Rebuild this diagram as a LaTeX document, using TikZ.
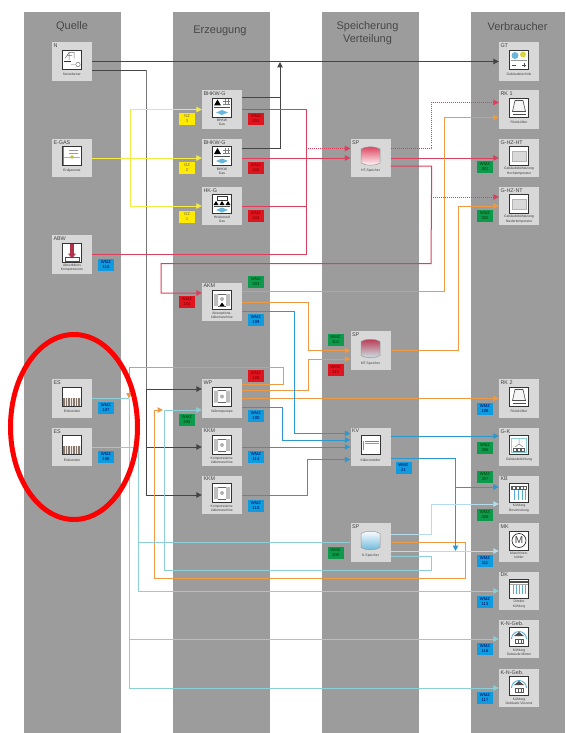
\documentclass[tikz,border=0pt]{standalone}
\usepackage{fontspec}
\setmainfont{Liberation Sans}
\usetikzlibrary{arrows.meta, calc, shapes.geometric}
\definecolor{PanelGray}{HTML}{9C9C9C}
\definecolor{BoxGray}{HTML}{D8D8D8}
\definecolor{LineDark}{HTML}{454545}
\definecolor{LineFaint}{HTML}{767676}
\definecolor{LineGas}{HTML}{F4EC45}
\definecolor{LineHeat}{HTML}{DC3F5C}
\definecolor{LineWarm}{HTML}{EE9A44}
\definecolor{LineCold}{HTML}{2C98CC}
\definecolor{LineCool}{HTML}{8CCFD6}
\definecolor{LinePale}{HTML}{B4DCEA}
\definecolor{TagRed}{HTML}{E0141E}
\definecolor{TagBlue}{HTML}{0E9BE0}
\definecolor{TagGreen}{HTML}{0D9A4C}
\definecolor{TagYellow}{HTML}{FFEA00}
\definecolor{SoilBrown}{HTML}{85776C}
\tikzset{
    panel/.style={fill=PanelGray, draw=none},
    panelhead/.style={font=\fontsize{11}{12.7}\selectfont, text=black!72, align=center},
    devbox/.style={fill=BoxGray, minimum width=40pt, minimum height=38.5pt, inner sep=0pt},
    devtitle/.style={anchor=north west, inner sep=1.5pt, font=\fontsize{5.4}{6}\selectfont, text=black!75},
    devcap/.style={anchor=south, yshift=2pt, minimum height=8.4pt, inner sep=0pt, align=center, font=\fontsize{3.4}{4.2}\selectfont, text=black!75},
    tagred/.style={fill=TagRed, text=red!45!black, tagbase},
    tagblue/.style={fill=TagBlue, text=blue!35!black, tagbase},
    taggreen/.style={fill=TagGreen, text=green!25!black, tagbase},
    taggas/.style={fill=TagYellow, text=black!60, tagbase},
    tagbase/.style={minimum width=16pt, minimum height=12pt, inner sep=0pt, align=center, font=\fontsize{4.2}{5}\selectfont},
    netline/.style={draw=LineDark, line width=1pt},
    netfaint/.style={draw=LineFaint, line width=1pt},
    gasline/.style={draw=LineGas, line width=1pt},
    heatline/.style={draw=LineHeat, line width=1pt},
    heatdot/.style={heatline, densely dotted},
    warmline/.style={draw=LineWarm, line width=1pt},
    coldline/.style={draw=LineCold, line width=1pt},
    coolline/.style={draw=LineCool, line width=1pt},
    paleline/.style={draw=LinePale, line width=1pt},
    icon/.style={minimum size=19pt, inner sep=0pt, fill=white, draw=black!80, line width=.7pt, path picture={
        \begin{scope}[shift={(path picture bounding box.center)}]
            #1
        \end{scope}}},
    netzicon/.style={icon={
        \draw[black!55, line width=.5pt] (-7,-1) -- (-3,-7) -- (-3,1) (-3,-7) -- (2,-7) -- (2,-1) (-5,-4) -- (0,-4);
        \draw[black!80, line width=.8pt] (-8,2) -- (-1,2);
        \draw[black!60, line width=.4pt] (-1,5) -- (3,5) (6,5) circle (2.2);}},
    gasicon/.style={icon={
        \fill[black!40!LineGas] (-9.5,-9.5) rectangle (-8,9.5);
        \draw[black!40, line width=.4pt] (-3,-6) -- (6,-6) (-3,-3) -- (6,-3);
        \draw[LineGas!80!black, line width=.8pt] (-8,1) -- (8,1);
        \fill[LineGas!80!black] (0,1) circle (1.8);}},
    abwicon/.style={icon={
        \fill[LineHeat!80!black] (-2,-9) rectangle (2,2);
        \fill[LineHeat!80!black] (-4,1) -- (4,1) -- (0,6) -- cycle;
        \draw[black!70, line width=.5pt] (-7,5) rectangle (7,9);}},
    bhkwicon/.style={icon={
        \fill[black] (-8,-2) -- (-4.5,-8) -- (-1,-2) -- cycle;
        \draw[black!50, line width=.4pt] (1,-8) grid[step=3pt] (8,-2);
        \draw[black!70, line width=.6pt] (-8,0) -- (8,0);
        \fill[LineCold!70!white] (-6,5) -- (0,2.5) -- (6,5) -- (0,7.5) -- cycle;}},
    hkicon/.style={icon={
        \draw[black!80, line width=.5pt] (-5,-8) rectangle (5,-4);
        \foreach \i in {-6,0,6} {\fill[black] (\i-2.5,1) -- (\i,-3) -- (\i+2.5,1) -- cycle;}
        \draw[black!70, line width=.6pt] (-8,2) -- (8,2);
        \fill[LineCold!70!white] (-6,6) -- (0,3.5) -- (6,6) -- (0,8.5) -- cycle;}},
    machicon/.style={icon={
        \fill[black!25] (-8,-6) rectangle (-4,6) (4,-6) rectangle (8,6);
        \draw[black!60, line width=.4pt] (-4,-6) -- (4,-6) (-4,6) -- (4,6);
        \fill[black!30] (0,0) circle (2);}},
    akmicon/.style={icon={
        \fill[black!25] (-8,-6) rectangle (-4,6) (4,-6) rectangle (8,6);
        \draw[black!60, line width=.4pt] (-4,-6) -- (4,-6) (-4,6) -- (4,6);
        \fill[black!30] (0,-1) circle (2);
        \fill[black] (-2.5,6) -- (0,2.5) -- (2.5,6) -- cycle;}},
    erdicon/.style={icon={
        \fill[SoilBrown] (-9,1) rectangle (9,9);
        \foreach \i in {-7,-4.5,...,8} {\draw[white!85!SoilBrown, line width=.5pt] (\i,1) -- (\i,9);}}},
    tankicon/.style args={#1 and #2}{minimum size=21pt, inner sep=0pt, path picture={
        \begin{scope}[shift={(path picture bounding box.center)}]
            \draw[draw=black!40, line width=.5pt, top color=#1, bottom color=#2] (-9.5,-7) .. controls (-5,-10) and (5,-10) .. (9.5,-7) -- (9.5,7) .. controls (5,10) and (-5,10) .. (-9.5,7) -- cycle;
        \end{scope}}},
    rkicon/.style={icon={
        \draw[black!70, line width=.6pt, fill=black!4] (-4,-7) -- (4,-7) -- (6.5,4) -- (-6.5,4) -- cycle;
        \draw[black!70, line width=.8pt] (-6.5,7) -- (6.5,7);}},
    hzicon/.style={icon={
        \fill[black!15] (-7,-5) rectangle (7,5);
        \draw[black!30, line width=.3pt] (-7,-5) rectangle (7,5);}},
    kvicon/.style={icon={
        \draw[black!45, line width=.4pt] (-7,-4) -- (-7,5);
        \draw[LineCold, line width=1pt] (-6,-4) -- (8,-4);
        \draw[black!40, line width=.4pt] (-6,-2) -- (8,-2);}},
    kbicon/.style={icon={
        \fill[black!65] (-8,-7) rectangle (8,-3);
        \foreach \i in {-5,-1,3,6} {\fill[white] (\i-.8,-6) rectangle (\i+.8,-4);
            \draw[LineCold!80!white, line width=.5pt] (\i,-3) -- (\i,7);}}},
    dkicon/.style={icon={
        \fill[black!70] (-9,-8) rectangle (9,-6);
        \draw[black!35, line width=.5pt] (-9,-4.5) -- (9,-4.5);
        \foreach \i in {-6,-3,...,7} {\draw[LineCold!80!white, line width=.5pt] (\i,-4) -- (\i,5);}}},
    mkicon/.style={icon={
        \draw[black!80, line width=.7pt] (0,0) circle (7);}},
    gkicon/.style={icon={
        \draw[LineCool, line width=1pt] (-7.5,-7) rectangle (7.5,7.5);
        \draw[black!50, line width=.5pt] (0,-1) -- (0,-6) (0,-1) -- (-4,2) (0,-1) -- (4,2);
        \fill[black!65] (-6,3) rectangle (6,7);
        \foreach \i in {-4,0,4} {\fill[white] (\i-1,4) rectangle (\i+1,6);}}},
    knicon/.style={icon={
        \draw[LineCold!80!white, line width=.9pt] (-7.5,2) arc[start angle=180, end angle=360, radius=7.5];
        \fill[black!70] (-5,-1) -- (0,-5) -- (5,-1) -- cycle;
        \fill[black!65] (-4,2) rectangle (5,7);
        \foreach \i in {-2,1,3.5} {\fill[white] (\i-.8,3) rectangle (\i+.8,6);}}},
    gticon/.style={icon={
        \fill[LineCold!70!white] (-4,-4) circle (3.5);
        \fill[LineGas!90!black] (4,-5) circle (3);
        \draw[black!40, line width=.5pt] (-8,1) -- (8,1);
        \draw[black!70, line width=.6pt] (-7,6) -- (-3,6) (3,6) -- (7,6) (5,4) -- (5,8);}},
}
\begin{document}
\begin{tikzpicture}[x=1pt, y=-1pt, >={Stealth[length=5.5pt,width=5.5pt,inset=0pt]}]
    \useasboundingbox (0,0) rectangle (565,733);

    % columns
    \fill[panel] (24,12) rectangle (121,733);
    \fill[panel] (172.5,12) rectangle (269.5,733);
    \fill[panel] (321.5,12) rectangle (418.5,733);
    \fill[panel] (470.5,12) rectangle (565,733);
    \node (quelle) [panelhead] at (72,26.5) {Quelle};
    \node (erzeugung) [panelhead] at (220,31) {Erzeugung};
    \node (speicherung) [panelhead] at (367.5,33) {Speicherung\\Verteilung};
    \node (verbraucher) [panelhead] at (517.5,27) {Verbraucher};

    % devices
    \node (netz) [devbox, label={[devtitle]north west:N}, label={[devcap]south:Netzebener}] at (72,61.5) {};
    \node (netzicn) [netzicon] at ($(netz)+(0,-2)$) {};
    \node (egas) [devbox, label={[devtitle]north west:E-GAS}, label={[devcap]south:Erdgasnetz}] at (72,158) {};
    \node (egasicn) [gasicon] at ($(egas)+(0,-2)$) {};
    \node (abw) [devbox, label={[devtitle]north west:ABW}, label={[devcap]south:{Absorbtions\\Kompressoren}}] at (72,254.5) {};
    \node (abwicn) [abwicon] at ($(abw)+(0,-2)$) {};
    \node (esa) [devbox, label={[devtitle]north west:ES}, label={[devcap]south:Erdsonden}] at (72,398.5) {};
    \node (esaicn) [erdicon] at ($(esa)+(0,-2)$) {};
    \node (esb) [devbox, label={[devtitle]north west:ES}, label={[devcap]south:Erdsonden}] at (72,447) {};
    \node (esbicn) [erdicon] at ($(esb)+(0,-2)$) {};

    \node (bhkwa) [devbox, label={[devtitle]north west:BHKW-G}, label={[devcap]south:{BHKW\\Gas}}] at (222,109.5) {};
    \node (bhkwaicn) [bhkwicon] at ($(bhkwa)+(0,-2)$) {};
    \node (bhkwb) [devbox, label={[devtitle]north west:BHKW-G}, label={[devcap]south:{BHKW\\Gas}}] at (222,158) {};
    \node (bhkwbicn) [bhkwicon] at ($(bhkwb)+(0,-2)$) {};
    \node (hkg) [devbox, label={[devtitle]north west:HK-G}, label={[devcap]south:{Heizkessel\\Gas}}] at (222,206) {};
    \node (hkgicn) [hkicon] at ($(hkg)+(0,-2)$) {};
    \node (akm) [devbox, label={[devtitle]north west:AKM}, label={[devcap]south:{Absorptions-\\kältemaschine}}] at (222,302) {};
    \node (akmicn) [akmicon] at ($(akm)+(0,-2)$) {};
    \node (wp) [devbox, label={[devtitle]north west:WP}, label={[devcap]south:Wärmepumpe}] at (222,398.5) {};
    \node (wpicn) [machicon] at ($(wp)+(0,-2)$) {};
    \node (kkma) [devbox, label={[devtitle]north west:KKM}, label={[devcap]south:{Kompressions-\\kältemaschine}}] at (222,447) {};
    \node (kkmaicn) [machicon] at ($(kkma)+(0,-2)$) {};
    \node (kkmb) [devbox, label={[devtitle]north west:KKM}, label={[devcap]south:{Kompressions-\\kältemaschine}}] at (222,495) {};
    \node (kkmbicn) [machicon] at ($(kkmb)+(0,-2)$) {};

    \node (spht) [devbox, label={[devtitle]north west:SP}, label={[devcap]south:HT-Speicher}] at (370.5,158) {};
    \node (sphticn) [tankicon=LineHeat and white] at ($(spht)+(0,-2)$) {};
    \node (spmt) [devbox, label={[devtitle]north west:SP}, label={[devcap]south:MT-Speicher}] at (370.5,350.5) {};
    \node (spmticn) [tankicon=LineHeat!85!black and LineCool!45!white] at ($(spmt)+(0,-2)$) {};
    \node (kv) [devbox, label={[devtitle]north west:KV}, label={[devcap]south:Kälteverteiler}] at (370.5,447) {};
    \node (kvicn) [kvicon] at ($(kv)+(0,-2)$) {};
    \node (spk) [devbox, label={[devtitle]north west:SP}, label={[devcap]south:K-Speicher}] at (370.5,542.5) {};
    \node (spkicn) [tankicon=white and LineCold!70!white] at ($(spk)+(0,-2)$) {};

    \node (gt) [devbox, label={[devtitle]north west:GT}, label={[devcap]south:Gebäudetechnik}] at (519,61.5) {};
    \node (gticn) [gticon] at ($(gt)+(0,-2)$) {};
    \node (rka) [devbox, label={[devtitle]north west:RK 1}, label={[devcap]south:Rückkühler}] at (519,109.5) {};
    \node (rkaicn) [rkicon] at ($(rka)+(0,-2)$) {};
    \node (hzht) [devbox, label={[devtitle]north west:G-HZ-HT}, label={[devcap]south:{Gebäudebeheizung\\Hochtemperatur}}] at (519,158) {};
    \node (hzhticn) [hzicon] at ($(hzht)+(0,-2)$) {};
    \node (hznt) [devbox, label={[devtitle]north west:G-HZ-NT}, label={[devcap]south:{Gebäudebeheizung\\Niedertemperatur}}] at (519,206) {};
    \node (hznticn) [hzicon] at ($(hznt)+(0,-2)$) {};
    \node (rkb) [devbox, label={[devtitle]north west:RK 2}, label={[devcap]south:Rückkühler}] at (519,398.5) {};
    \node (rkbicn) [rkicon] at ($(rkb)+(0,-2)$) {};
    \node (gk) [devbox, label={[devtitle]north west:G-K}, label={[devcap]south:Gebäudekühlung}] at (519,447) {};
    \node (gkicn) [gkicon] at ($(gk)+(0,-2)$) {};
    \node (kb) [devbox, label={[devtitle]north west:KB}, label={[devcap]south:{Kühlung\\Beschneiung}}] at (519,495) {};
    \node (kbicn) [kbicon] at ($(kb)+(0,-2)$) {};
    \node (mk) [devbox, label={[devtitle]north west:MK}, label={[devcap]south:{Maschinen-\\kühler}}] at (519,542.5) {};
    \node (mkicn) [mkicon] at ($(mk)+(0,-2)$) {};
    \node (mkm) [font=\fontsize{10}{10}\selectfont, text=black!75, inner sep=0pt] at (mkicn) {M};
    \node (dk) [devbox, label={[devtitle]north west:DK}, label={[devcap]south:{Direkte\\Kühlung}}] at (519,591) {};
    \node (dkicn) [dkicon] at ($(dk)+(0,-2)$) {};
    \node (kna) [devbox, label={[devtitle]north west:K-N-Geb.}, label={[devcap]south:{Kühlung\\Gebäude Mieter}}] at (519,639) {};
    \node (knaicn) [knicon] at ($(kna)+(0,-2)$) {};
    \node (knb) [devbox, label={[devtitle]north west:K-N-Geb.}, label={[devcap]south:{Kühlung\\Gebäude Vinzenz}}] at (519,688) {};
    \node (knbicn) [knicon] at ($(knb)+(0,-2)$) {};

    % bus points
    \coordinate (netbus) at (146,495);
    \coordinate (nettop) at (146,70.5);
    \coordinate (gasbus) at (130.5,158);
    \coordinate (heatbus) at (306,254.5);
    \coordinate (esbus) at (129,398.5);
    \coordinate (coolbus) at (138,447);
    \coordinate (returnbus) at (431,263.5);
    \coordinate (kvend) at (455.5,551);
    \coordinate (wpin) at ($(wp.west)+(0,-9.5)$);
    \coordinate (sphtin) at ($(spht.west)+(0,-9.5)$);

    % power
    \draw[netline, ->] (netz.east) -- (gt.west);
    \draw[netline] ($(netz.east)+(0,9)$) -- (nettop);
    \draw[netfaint] (nettop) -- (netbus |- wpin);
    \draw[netline] (netbus |- wpin) -- (netbus);
    \draw[netline, ->] (netbus |- wpin) -- (wpin);
    \draw[netline, ->] (netbus |- kkma.west) -- (kkma.west);
    \draw[netline, ->] (netbus) -- (kkmb.west);
    \draw[netline] ($(bhkwa.east)+(0,-11.5)$) -- ++(38,0);
    \draw[netline, ->] ($(bhkwb.east)+(0,-9.5)$) -| (280,62);

    % gas
    \draw[gasline, ->] (egas.east) -- (bhkwb.west);
    \draw[gasline, ->] (gasbus) |- (bhkwa.west);
    \draw[gasline, ->] (gasbus) |- (hkg.west);

    % high temperature heat
    \draw[heatline] (bhkwa.east) -| (heatbus);
    \draw[heatline] (abw.east) -- (heatbus);
    \draw[heatline] (hkg.east) -- (heatbus |- hkg.east);
    \draw[heatline, ->] (bhkwb.east) -- (spht.west);
    \draw[heatdot, ->] (heatbus |- sphtin) -- (sphtin);
    \draw[heatline, ->] (spht.east) -- (hzht.west);
    \draw[heatdot, ->] ($(spht.east)+(0,-9.5)$) -- ++(41,0) |- ($(rka.west)+(0,-7)$);
    \draw[heatline, ->] ($(spht.east)+(0,8)$) -- ++(41,0) -- (returnbus) -| (161,280) |- ($(akm.west)+(0,-9)$);
    \draw[heatdot, ->] (431,197) -- ($(hznt.west)+(0,-9)$);

    % medium temperature heat
    \draw[warmline, ->] ($(akm.east)+(0,-10.5)$) -- (444.5,291.5) |- ($(rka.west)+(0,8)$);
    \draw[warmline, ->] (akm.east) -- ++(66,0) |- (spmt.west);
    \draw[warmline, ->] ($(wp.east)+(0,-8.5)$) -- ++(66,0) |- ($(spmt.west)+(0,8.5)$);
    \draw[warmline, ->] (wp.east) -- (rkb.west);
    \draw[warmline, ->] ($(wp.east)+(0,-14.5)$) -- (283,384) |- (129,367.5) -- (esbus);
    \draw[warmline, ->] (spmt.east) -- ++(67.5,0) |- (hznt.west);
    \draw[warmline, ->] (spk.east) -- ++(74.5,0) |- (154.5,578.5) |- (163,410);

    % cooling
    \draw[coldline, ->] ($(akm.east)+(0,9)$) -- (294.5,311) |- ($(kv.west)+(0,-13.5)$);
    \draw[coldline, ->] ($(wp.east)+(0,8.5)$) -- (282,407) |- ($(kv.west)+(0,-7)$);
    \draw[coldline, ->] (kkma.east) -- (kv.west);
    \draw[coldline, ->] (kkmb.east) -- (307,495) |- ($(kv.west)+(0,12.5)$);
    \draw[coldline, ->] ($(kv.east)+(0,-11)$) -- ($(gk.west)+(0,-11)$);
    \draw[coldline, ->] ($(kv.east)+(0,11)$) -| (kvend);
    \draw[coldline, ->] (455.5,487) -- ($(kb.west)+(0,-8)$);

    % earth probes and cold store
    \draw[coolline] (esa.east) -- (esbus);
    \draw[coolline, ->] (esbus) |- (knb.west);
    \draw[coolline, ->] (esbus |- kna.west) -- (kna.west);
    \draw[coolline] (esb.east) -- (coolbus);
    \draw[coolline, ->] (coolbus) |- (dk.west);
    \draw[coolline] (coolbus |- spk.west) -- (spk.west);
    \draw[paleline, ->] ($(spk.east)+(0,-8.5)$) -- ++(41,0) |- ($(kb.west)+(0,9)$);
    \draw[paleline, ->] ($(spk.east)+(0,8.5)$) -- ($(mk.west)+(0,8.5)$);
    \draw[coolline, ->] ($(spk.east)+(0,13.5)$) -- (431.5,556) |- (164,570) |- ($(wp.west)+(0,11.5)$);

    % meters
    \node (gza) [taggas] at (187,119) {GZ\\3};
    \node (gzb) [taggas] at (187,167.5) {GZ\\2};
    \node (gzc) [taggas] at (187,216.5) {GZ\\1};
    \node (wmzbhkwa) [tagred] at (256,119) {WMZ\\201};
    \node (wmzbhkwb) [tagred] at (256,167.5) {WMZ\\202};
    \node (wmzhkg) [tagred] at (256,216) {WMZ\\203};
    \node (wmzakm) [tagred] at (187,302) {WMZ\\104};
    \node (wmzwp) [tagred] at (256,376) {WMZ\\105};
    \node (wmzspmt) [tagred] at (335.5,370) {WMZ\\112};
    \node (wmzabw) [tagblue] at (106,265) {WMZ\\110};
    \node (wmzesa) [tagblue] at (106,408) {WMZ\\107};
    \node (wmzesb) [tagblue] at (106,457) {WMZ\\106};
    \node (wmzakmk) [tagblue] at (256,320) {WMZ\\109};
    \node (wmzwpk) [tagblue] at (256,416) {WMZ\\100};
    \node (wmzkkma) [tagblue] at (256,457) {WMZ\\114};
    \node (wmzkkmb) [tagblue] at (256,506) {WMZ\\115};
    \node (wmzkv) [tagblue] at (403.5,468) {WMZ\\21};
    \node (wmzrkb) [tagblue] at (485,408.5) {WMZ\\108};
    \node (wmzmk) [tagblue] at (485,561) {WMZ\\111};
    \node (wmzdk) [tagblue] at (485,602) {WMZ\\113};
    \node (wmzkna) [tagblue] at (485,649) {WMZ\\116};
    \node (wmzknb) [tagblue] at (485,698) {WMZ\\117};
    \node (wmzht) [taggreen] at (485,167) {WMZ\\301};
    \node (wmznt) [taggreen] at (485,216) {WMZ\\302};
    \node (wmzakmw) [taggreen] at (256,282) {WMZ\\303};
    \node (wmzspin) [taggreen] at (335.5,340) {WMZ\\304};
    \node (wmzwpw) [taggreen] at (187,419.5) {WMZ\\305};
    \node (wmzgk) [taggreen] at (485,448) {WMZ\\306};
    \node (wmzkba) [taggreen] at (485,477) {WMZ\\307};
    \node (wmzkbb) [taggreen] at (485,515) {WMZ\\308};
    \node (wmzspk) [taggreen] at (335.5,552.5) {WMZ\\309};

    % marked probes
    \node (mark) [draw=red, line width=5pt, ellipse, minimum width=127pt, minimum height=185pt, inner sep=0pt] at (74,427) {};
\end{tikzpicture}
\end{document}
